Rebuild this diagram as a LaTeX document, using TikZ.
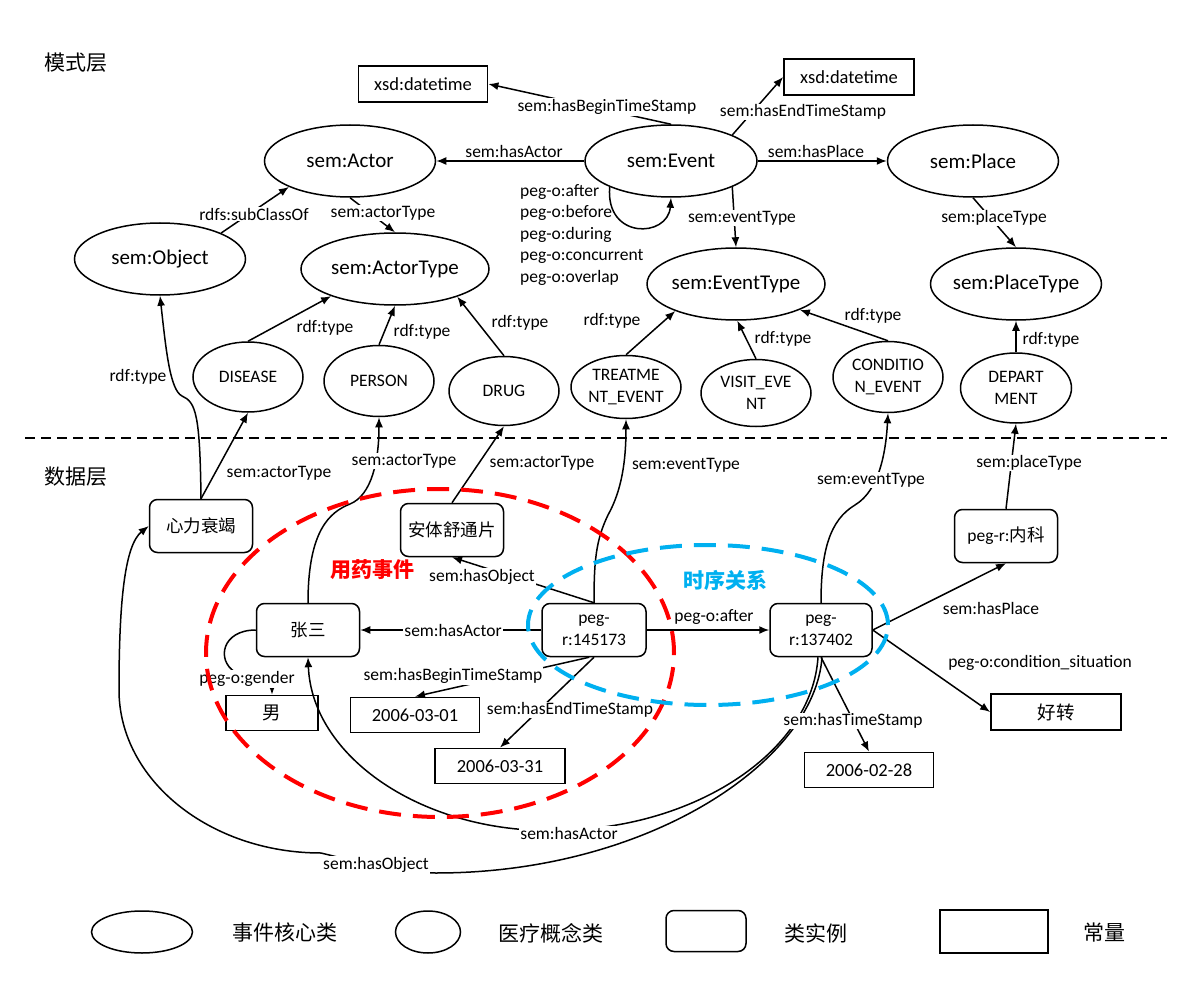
\documentclass[tikz,border=0pt]{standalone}
\usepackage{fontspec}
\setmainfont{Carlito}
\newfontfamily\cjk{Noto Sans CJK SC}
\usetikzlibrary{shapes.geometric,arrows.meta,calc}
\definecolor{skyb}{HTML}{00B0F0}
\begin{document}
\begin{tikzpicture}[x=1pt,y=-1pt,
 every node/.style={inner sep=0pt},
 big/.style={draw, ellipse, line width=1.5pt, inner xsep=-4pt, inner ysep=0pt, minimum width=#1, minimum height=72, font=\fontsize{21}{25}\selectfont},
 med/.style={draw, ellipse, line width=1.5pt, inner sep=0pt, minimum width=110, minimum height=#1, align=center, font=\fontsize{17.5}{21.5}\selectfont},
 inst/.style={draw, rounded corners=8pt, line width=1.5pt, minimum width=103, minimum height=53, align=center, font=\fontsize{17.5}{22}\selectfont},
 cbox/.style={draw, line width=1.8pt, minimum width=#1, minimum height=36, font=\fontsize{18.5}{22}\selectfont},
 lbl/.style={font=\fontsize{17.5}{21.5}\selectfont, inner sep=1pt},
 wl/.style={lbl, fill=white},
 arr/.style={line width=1.5pt, -{Latex[length=10pt,width=8pt]}},
 cjt/.style={font=\cjk\fontsize{21}{25}\selectfont},
]
\useasboundingbox (0,0) rectangle (1200,1003);

% ---------- schema layer ----------
\node[cjt] (mode) at (76,63) {模式层};
\node[cbox=129] (xsdL) at (423,84) {xsd:datetime};
\node[cbox=130] (xsdR) at (849,77) {xsd:datetime};
\node[big=171] (actor) at (350,161) {sem:Actor};
\node[big=172] (ev) at (671,161) {sem:Event};
\node[big=171] (place) at (973,161) {sem:Place};
\node[big=171] (obj) at (160,259) {sem:Object};
\node[big=188] (atype) at (395,269) {sem:ActorType};
\node[big=178] (etype) at (736,284) {sem:EventType};
\node[big=171] (ptype) at (1016,284) {sem:PlaceType};
\node[med=70] (dis) at (248,377) {DISEASE};
\node[med=71] (per) at (379,381) {PERSON};
\node[med=69] (drug) at (504,391) {DRUG};
\node[med=63] (treat) at (626,387) {TREATME\\NT\_EVENT};
\node[med=67] (visit) at (756,393) {VISIT\_EVE\\NT};
\node[med=71] (cond) at (888,377) {CONDITIO\\N\_EVENT};
\node[med=70, minimum width=111] (dept) at (1016,388) {DEPART\\MENT};

% separator
\coordinate (sepL) at (25,438);
\coordinate (sepR) at (1167,438);
\draw[line width=2pt, dash pattern=on 10pt off 6pt] (sepL) -- (sepR);

% ---------- data layer ----------
\node[cjt] (data) at (76,477) {数据层};
\node[inst] (xl) at (201,526) {\cjk 心力衰竭};
\node[inst] (an) at (452,530) {\cjk 安体舒通片};
\node[inst] (zs) at (308,630) {\cjk 张三};
\node[inst, minimum width=104] (p1) at (594,630) {peg-\\r:145173};
\node[inst, minimum width=102] (p2) at (821,630) {peg-\\r:137402};
\node[inst] (nk) at (1006,536) {peg-r:{\cjk 内科}};
\node[cbox=92, minimum height=35] (nan) at (272,713) {\cjk 男};
\node[cbox=129, minimum height=35] (d1) at (415,715) {2006-03-01};
\node[cbox=130, minimum height=35] (d2) at (500,766) {2006-03-31};
\node[cbox=129, minimum height=35] (d3) at (869,770) {2006-02-28};
\node[cbox=130] (hz) at (1056,712) {\cjk 好转};

% ---------- schema edges ----------
\draw[arr] (ev.north) -- (xsdL.east);
\draw[arr] (ev.23) -- (xsdR.west);
\draw[arr] (ev.west) -- (actor.east);
\draw[arr] (ev.east) -- (place.west);
\draw[arr] (obj.23) -- (actor.203);
\draw[arr] (actor.south) -- (atype.north);
\draw[arr] (ev.203) .. controls (605,240) and (668,238) .. (ev.south);
\draw[arr] (ev.-23) -- (etype.north);
\draw[arr] (place.south) -- (ptype.north);
\draw[arr] (dis.north) -- (atype.203);
\draw[arr] (per.north) -- (atype.south);
\draw[arr] (drug.north) -- (atype.-24);
\draw[arr] (treat.north) -- (etype.204);
\draw[arr] (visit.north) -- (etype.-88);
\draw[arr] (cond.north) -- (etype.-22);
\draw[arr] (dept.north) -- (ptype.south);

% ---------- data edges ----------
\draw[arr] (xl.north) .. controls (200,415) and (196,402) .. (182,396) .. controls (170,390) and (166,350) .. (obj.south);
\draw[arr] (xl.north) -- (dis.south);
\draw[arr] (zs.north) .. controls (308,530) and (330,512) .. (350,504) .. controls (372,495) and (379,460) .. (per.south);
\draw[arr] (an.north) -- (drug.south);
\draw[arr] (p1.north) .. controls (594,560) and (596,540) .. (608,515) .. controls (622,490) and (626,460) .. (treat.south);
\draw[arr] (p2.north) .. controls (821,550) and (830,520) .. (855,505) .. controls (880,490) and (886,450) .. (cond.south);
\draw[arr] (nk.north) -- (dept.south);
\draw[arr] (p1.north) -- (an.south);
\draw[arr] (p1.west) -- (zs.east);
\draw[arr] (zs.west) .. controls (222,630) and (216,660) .. (235,672) .. controls (255,682) and (272,680) .. (nan.north);
\draw[arr] (p1.-100) -- (d1.north);
\draw[arr] (p1.south) -- (d2.north);
\draw[arr] (p1.east) -- (p2.west);
\draw[arr] (p2.east) -- (nk.south);
\draw[arr] (p2.east) -- (hz.west);
\draw[arr] (p2.south) -- (d3.north);
\draw[arr] ($(p2.south)+(-3,0)$) .. controls (812,750) and (700,825) .. (569,830) .. controls (430,838) and (312,760) .. (zs.south);
\draw[arr] ($(p2.south)+(1,0)$) .. controls (815,760) and (650,873) .. (436,873) .. controls (400,873) and (350,860) .. (321,853) .. controls (210,853) and (119,780) .. (119,690) .. controls (119,600) and (125,545) .. (xl.west);

% ---------- edge labels ----------
\node[wl] (lbegin) at (607,107) {sem:hasBeginTimeStamp};
\node[wl] (lend) at (803,112) {sem:hasEndTimeStamp};
\node[lbl] (lhasactor) at (514,151) {sem:hasActor};
\node[lbl] (lhasplace) at (816,151) {sem:hasPlace};
\node[wl] (lsub) at (254,214) {rdfs:subClassOf};
\node[wl] (lat) at (383,213) {sem:actorType};
\node[lbl, align=left, anchor=west] (lpeg) at (519,235) {peg-o:after\\peg-o:before\\peg-o:during\\peg-o:concurrent\\peg-o:overlap};
\node[wl] (let) at (742,218) {sem:eventType};
\node[wl] (lpt) at (994,218) {sem:placeType};
\node[lbl] (r1) at (325,328) {rdf:type};
\node[lbl] (r2) at (422,332) {rdf:type};
\node[lbl] (r3) at (520,323) {rdf:type};
\node[lbl] (r4) at (612,321) {rdf:type};
\node[lbl] (r5) at (783,339) {rdf:type};
\node[lbl] (r6) at (873,316) {rdf:type};
\node[lbl] (r7) at (1051,340) {rdf:type};
\node[lbl] (r8) at (138,377) {rdf:type};
\node[lbl] (a1) at (279,473) {sem:actorType};
\node[wl] (a2) at (404,461) {sem:actorType};
\node[lbl] (a3) at (542,463) {sem:actorType};
\node[lbl] (e1) at (686,465) {sem:eventType};
\node[wl] (e2) at (871,480) {sem:eventType};
\node[wl] (pt2) at (1029,463) {sem:placeType};
\node[wl] (lobj) at (482,577) {sem:hasObject};
\node[wl] (lact) at (453,630) {sem:hasActor};
\node[wl] (lgen) at (247,679) {peg-o:gender};
\node[wl] (lb2) at (453,676) {sem:hasBeginTimeStamp};
\node[wl] (le2) at (570,710) {sem:hasEndTimeStamp};
\node[lbl] (laf) at (714,617) {peg-o:after};
\node[lbl] (lpl) at (991,608) {sem:hasPlace};
\node[lbl] (lcs) at (1040,663) {peg-o:condition\_situation};
\node[wl] (lts) at (853,721) {sem:hasTimeStamp};
\node[wl] (lact2) at (569,833) {sem:hasActor};
\node[wl] (lobj2) at (376,865) {sem:hasObject};

% ---------- groups ----------
\node[draw=red, ellipse, line width=4pt, dash pattern=on 22pt off 12pt, minimum width=468, minimum height=328] (redg) at (440,653) {};
\node[draw=skyb, ellipse, line width=4pt, dash pattern=on 22pt off 12pt, minimum width=360, minimum height=160] (blueg) at (708,625) {};
\node[font=\cjk\bfseries\fontsize{21}{25}\selectfont, text=red] (yy) at (372,570) {用药事件};
\node[font=\cjk\bfseries\fontsize{21}{25}\selectfont, text=skyb] (sx) at (725,580) {时序关系};

% ---------- legend ----------
\node[draw, ellipse, line width=1.5pt, minimum width=101, minimum height=42] (lg1) at (142,932) {};
\node[cjt] (lt1) at (285,933) {事件核心类};
\node[draw, ellipse, line width=1.5pt, minimum width=65, minimum height=42] (lg2) at (428,932) {};
\node[cjt] (lt2) at (551,933) {医疗概念类};
\node[draw, rounded corners=8pt, line width=1.5pt, minimum width=80, minimum height=41] (lg3) at (706,931) {};
\node[cjt] (lt3) at (816,933) {类实例};
\node[draw, line width=2pt, minimum width=108, minimum height=43] (lg4) at (994,931) {};
\node[cjt] (lt4) at (1104,933) {常量};
\end{tikzpicture}
\end{document}
